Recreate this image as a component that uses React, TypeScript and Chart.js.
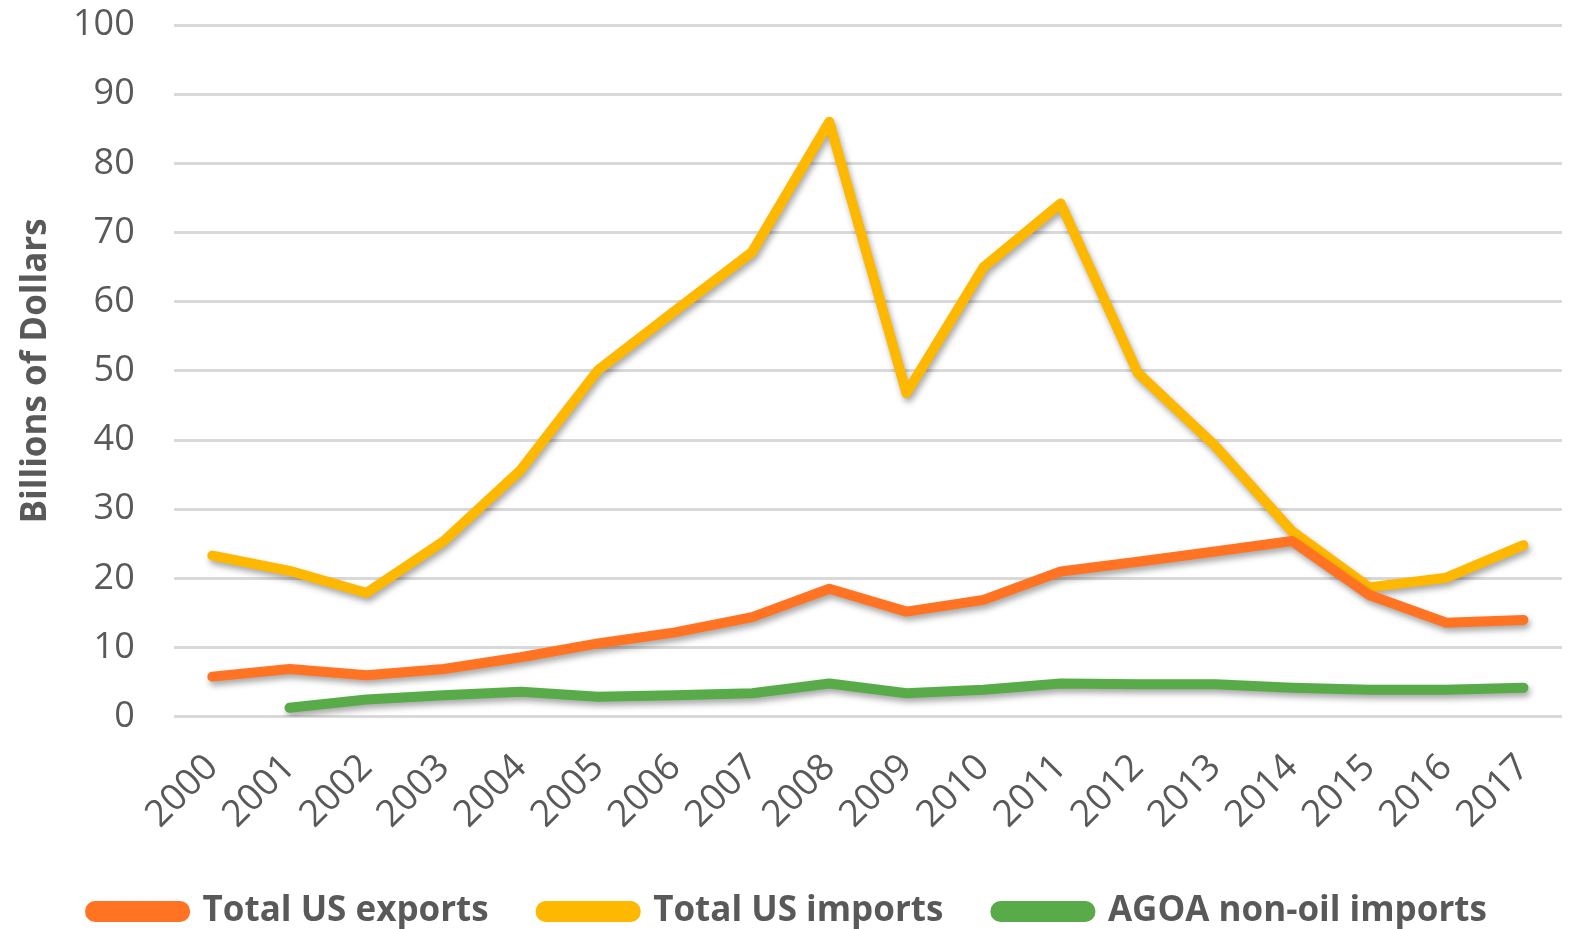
import React, { useEffect, useRef } from "react";
import { Chart, registerables } from "chart.js";

Chart.register(...registerables);

const years = ["2000","2001","2002","2003","2004","2005","2006","2007","2008","2009","2010","2011","2012","2013","2014","2015","2016","2017"];
const exportsUS = [5.8, 6.9, 6.0, 6.9, 8.6, 10.6, 12.2, 14.4, 18.5, 15.2, 16.9, 21.0, 22.4, 23.9, 25.4, 17.6, 13.6, 14.0];
const importsUS = [23.3, 21.1, 17.9, 25.4, 35.7, 50.1, 58.7, 67.2, 86.0, 46.8, 65.0, 74.2, 49.7, 39.2, 26.8, 18.7, 20.1, 24.8];
const agoaNonOil = [null, 1.3, 2.5, 3.1, 3.6, 2.9, 3.1, 3.4, 4.8, 3.4, 3.9, 4.8, 4.7, 4.7, 4.2, 3.9, 3.9, 4.2];
const yTicks = [0, 10, 20, 30, 40, 50, 60, 70, 80, 90, 100];

const shadowPlugin = {
  id: "lineShadow",
  beforeDatasetDraw(chart: any) {
    const ctx = chart.ctx;
    ctx.save();
    ctx.shadowColor = "rgba(0,0,0,0.35)";
    ctx.shadowBlur = 6;
    ctx.shadowOffsetX = 2;
    ctx.shadowOffsetY = 4;
  },
  afterDatasetDraw(chart: any) {
    chart.ctx.restore();
  },
};

const Y_TICK_PAD = 39;

export default function App() {
  const ref = useRef<HTMLCanvasElement | null>(null);
  useEffect(() => {
    if (!ref.current) return;
    const font = "'Open Sans', 'Noto Sans', sans-serif";
    const common = {
      pointRadius: 0,
      borderWidth: 10,
      borderCapStyle: "round" as const,
      borderJoinStyle: "round" as const,
      tension: 0,
      fill: false,
    };
    const chart = new Chart(ref.current, {
      type: "line",
      data: {
        labels: years,
        datasets: [
          { label: "Total US exports", data: exportsUS, borderColor: "#FF7323", backgroundColor: "#FF7323", ...common },
          { label: "Total US imports", data: importsUS, borderColor: "#FFB800", backgroundColor: "#FFB800", ...common },
          { label: "AGOA non-oil imports", data: agoaNonOil as any, borderColor: "#58AB48", backgroundColor: "#58AB48", ...common },
        ],
      },
      plugins: [shadowPlugin],
      options: {
        animation: false,
        responsive: true,
        maintainAspectRatio: false,
        layout: { padding: { top: 0, right: 16, left: 15, bottom: -10 } },
        plugins: {
          tooltip: { enabled: false },
          legend: {
            position: "bottom",
            labels: {
              boxWidth: 95,
              boxHeight: 11,
              useBorderRadius: true,
              borderRadius: 5,
              padding: 52,
              color: "#595959",
              font: { family: font, size: 35, weight: "bold" },
            },
          },
        },
        scales: {
          x: {
            offset: true,
            grid: { display: false, drawTicks: true, tickLength: 29 },
            border: { display: false },
            afterFit: (axis: any) => {
              axis.height += 5;
            },
            ticks: {
              color: "#595959",
              font: { family: font, size: 37 },
              maxRotation: 45,
              minRotation: 45,
              padding: 0,
            },
          },
          y: {
            min: 0,
            max: 100,
            afterBuildTicks: (axis: any) => {
              axis.ticks = yTicks.map((v) => ({ value: v }));
            },
            afterFit: (axis: any) => {
              axis.paddingTop = 25;
              axis.paddingBottom = 20;
              axis.width -= Y_TICK_PAD;
            },
            grid: { color: "#D9D9D9", lineWidth: 3, drawTicks: false },
            border: { display: false },
            ticks: {
              color: "#595959",
              font: { family: font, size: 36 },
              padding: Y_TICK_PAD,
            },
            title: {
              display: true,
              text: "Billions of Dollars",
              color: "#595959",
              font: { family: font, size: 35, weight: "bold" },
              padding: { top: 0, bottom: 16 },
            },
          },
        },
      },
    });
    return () => chart.destroy();
  }, []);
  return (
    <div style={{ position: "absolute", left: 0, top: 0, width: 1578, height: 929, background: "#fff" }}>
      <canvas ref={ref} />
    </div>
  );
}
